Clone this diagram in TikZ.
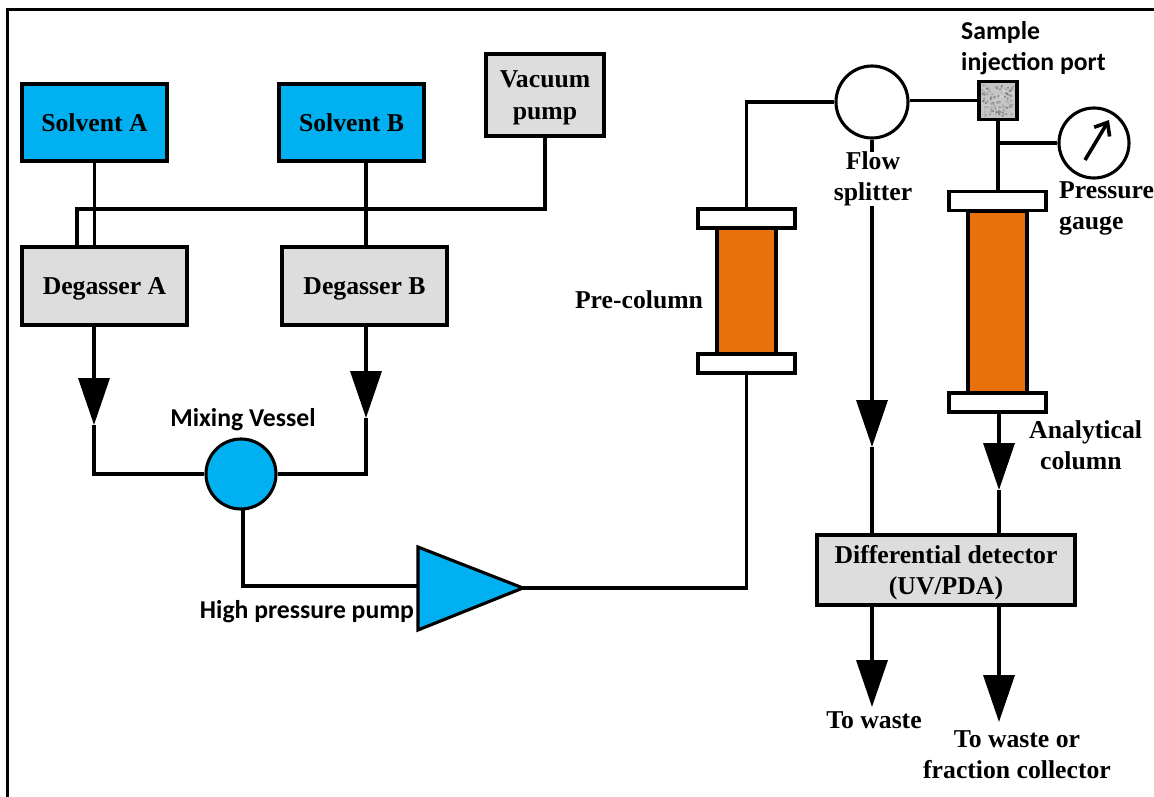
\documentclass[tikz,border=0pt]{standalone}
\usepackage{fontspec}
\setmainfont{Liberation Serif}
\newfontfamily\sanslabel{Carlito}
\usetikzlibrary{arrows.meta,calc}
\definecolor{SolventBlue}{RGB}{0,176,240}
\definecolor{BoxGrey}{RGB}{221,221,221}
\definecolor{ColumnOrange}{RGB}{232,113,12}
\tikzset{
  pipe/.style={line width=3.6pt},
  flowtip/.style={pipe,-{Triangle[length=47pt,width=31pt]}},
  box/.style={draw,line width=3.1pt,inner sep=0pt,align=center,text depth=-8pt,font=\fontsize{25.7}{31.5}\selectfont\bfseries},
  solvent/.style={box,fill=SolventBlue,minimum width=145pt,minimum height=77pt},
  degasser/.style={box,fill=BoxGrey,minimum width=165pt,minimum height=78pt},
  flange/.style={draw,line width=3.1pt,fill=white,inner sep=0pt,minimum width=97pt,minimum height=19pt},
  column/.style={draw,line width=3.1pt,fill=ColumnOrange,inner sep=0pt,minimum width=59pt},
  ring/.style={circle,draw,line width=3.1pt,inner sep=0pt},
  seriflabel/.style={inner sep=0pt,align=center,font=\fontsize{25.7}{31}\selectfont\bfseries},
  carlitolabel/.style={inner sep=0pt,align=left,font=\fontsize{25.7}{31}\selectfont\sanslabel\bfseries}
}
\begin{document}
\begin{tikzpicture}[x=1pt,y=-1pt,>=Latex]
  \useasboundingbox (0,0) rectangle (1154,797);
  \draw[line width=3pt] (7,797) -- (7,10) -- (1154,10);

  \node[solvent] (solventA) at (94.5,122.5) {Solvent A};
  \node[solvent] (solventB) at (351.5,122.5) {Solvent B};
  \node[box,fill=BoxGrey,minimum width=118pt,minimum height=82pt] (vacuum) at (545,95) {Vacuum\\pump};
  \node[degasser] (degasserA) at (104.5,286) {Degasser A};
  \node[degasser] (degasserB) at (364.5,286) {Degasser B};
  \node[ring,fill=SolventBlue,minimum size=70pt] (mixing) at (241,474) {};
  \coordinate (pumpin) at (418,586);
  \coordinate (pumptip) at (523,588);
  \filldraw[line width=3.1pt,fill=SolventBlue] (418,547) -- (pumptip) -- (418,630) -- cycle;

  \node[flange] (pretop) at (746.5,218.5) {};
  \node[flange] (prebot) at (746.5,363.5) {};
  \node[column,minimum height=126pt] (precol) at (746.5,291) {};
  \node[ring,minimum size=72pt] (splitter) at (872,102) {};
  \node[draw,line width=3.1pt,fill=gray!45,inner sep=0pt,minimum size=38pt] (port) at (998,100.5) {};
  \foreach \i in {1,...,140} {
    \pgfmathsetmacro{\dotx}{rnd*31-15.5}
    \pgfmathsetmacro{\doty}{rnd*31-15.5}
    \pgfmathsetmacro{\dotg}{int(rnd*40+15)}
    \fill[black!\dotg] ($(port.center)+(\dotx,\doty)$) circle (1.2pt);
  }
  \node[ring,minimum size=70pt] (gauge) at (1094,143) {};
  \draw[line width=3.6pt,-{Straight Barb[length=11pt,width=18pt]}] ($(gauge.center)+(-9,17)$) -- ($(gauge.center)+(15,-23)$);
  \node[flange] (anatop) at (997.5,201) {};
  \node[flange] (anabot) at (997.5,402.5) {};
  \node[column,minimum height=182pt] (anacol) at (997.5,302) {};
  \node[box,fill=BoxGrey,minimum width=258pt,minimum height=70pt] (detector) at (946,570) {Differential detector\\(UV/PDA)};

  \coordinate (vacjoin) at (545,209);
  \coordinate (degjoin) at (77,209);
  \coordinate (solventBout) at (366,161);
  \coordinate (tipA) at (94,425);
  \coordinate (tipB) at (366,418);
  \coordinate (mixout) at (243,508);
  \draw[pipe] (vacuum.south) -- (vacjoin) -- (degjoin) -- (degjoin |- degasserA.north);
  \draw[pipe] (solventA.south) -- (solventA.south |- degasserA.north);
  \draw[pipe] (solventBout) -- (solventBout |- degasserB.north);

  \draw[flowtip] (tipA |- degasserA.south) -- (tipA);
  \draw[flowtip] (tipB |- degasserB.south) -- (tipB);
  \draw[pipe] (tipA) |- (mixing.west);
  \draw[pipe] (tipB) |- (mixing.east);
  \draw[pipe] (mixout) |- (pumpin);
  \draw[pipe] (pumptip) -| (prebot.south);
  \draw[pipe] (pretop.north) |- (splitter.west);
  \draw[pipe] (splitter.east |- port.west) -- (port.west);
  \draw[pipe] (port.south) -- (port.south |- anatop.north);
  \coordinate (gaugejoin) at (port.south |- gauge.west);
  \draw[pipe] (gaugejoin) -- (gauge.west);

  \coordinate (tipsplit) at (872,447);
  \coordinate (tipana) at (999,490);
  \draw[flowtip] (splitter.south) -- (tipsplit);
  \draw[pipe] (tipsplit) -- (tipsplit |- detector.north);
  \draw[flowtip] (tipana |- anabot.south) -- (tipana);
  \draw[pipe] (tipana) -- (tipana |- detector.north);
  \coordinate (tipwaste) at (872,707);
  \coordinate (tipcollect) at (999,722);
  \draw[flowtip] (tipwaste |- detector.south) -- (tipwaste);
  \draw[flowtip] (tipcollect |- detector.south) -- (tipcollect);

  \node[seriflabel,fill=white] (splitterlabel) at (873,179) {Flow\\splitter};
  \node[seriflabel] (prelabel) at (639,300) {Pre-column};
  \node[seriflabel,anchor=west,align=left] (gaugelabel) at (1059,208) {\hspace*{0pt}Pressure\\gauge};
  \node[seriflabel,anchor=west,align=left] (analabel) at (1029,445) {Analytical\\\hspace*{11pt}column};
  \node[seriflabel] (wastelabel) at (874,720) {To waste};
  \node[seriflabel] (collectlabel) at (1017,755) {To waste or\\fraction collector};
  \node[carlitolabel] (mixlabel) at (243,420) {Mixing Vessel};
  \node[carlitolabel] (pumplabel) at (307,612) {High pressure pump};
  \node[carlitolabel,anchor=west] (portlabel) at (961,48) {Sample\\injection port};
\end{tikzpicture}
\end{document}
